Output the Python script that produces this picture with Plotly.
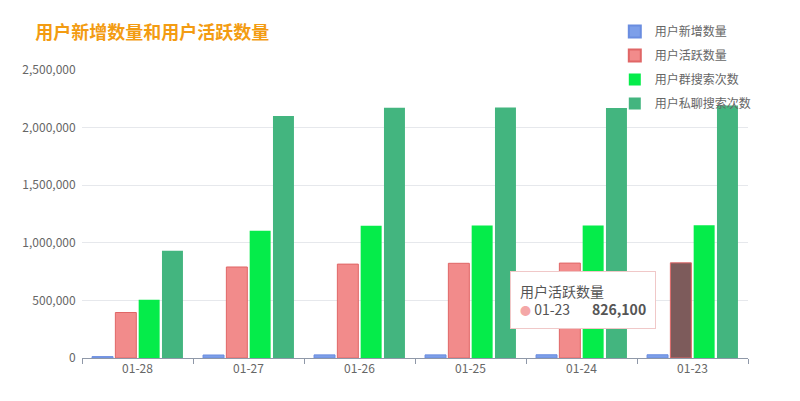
import plotly.graph_objects as go

# dates and series
dates = ['01-28', '01-27', '01-26', '01-25', '01-24', '01-23']
new_users = [12000, 26000, 27000, 27000, 28000, 28000]
active_users = [395000, 790000, 815000, 822000, 824000, 826100]
group_search = [505000, 1105000, 1148000, 1150000, 1150000, 1152000]
private_search = [932000, 2100000, 2172000, 2175000, 2170000, 2192000]

fig = go.Figure()
fig.add_trace(go.Bar(x=dates, y=new_users, name='用户新增数量', legendgroup='a',
                     marker=dict(color='#7d9fe9', line=dict(color='#6a8de0', width=1))))
# highlighted bar (hovered) on the last date
active_colors = ['#f28b8b'] * (len(dates) - 1) + ['#7d5b5b']
fig.add_trace(go.Bar(x=dates, y=active_users, name='用户活跃数量', legendgroup='b',
                     marker=dict(color=active_colors, line=dict(color='#e06666', width=1))))
fig.add_trace(go.Bar(x=dates, y=group_search, name='用户群搜索次数', legendgroup='c',
                     marker=dict(color='#05ec4a', line=dict(width=0))))
fig.add_trace(go.Bar(x=dates, y=private_search, name='用户私聊搜索次数', legendgroup='d',
                     marker=dict(color='#43b57f', line=dict(width=0))))

fig.update_layout(
    width=800, height=401,
    margin=dict(l=74, r=60, t=62, b=51, autoexpand=False),
    paper_bgcolor='white', plot_bgcolor='white',
    font=dict(family='Noto Sans CJK SC, Microsoft YaHei, sans-serif', color='#666', size=12),
    title=dict(text='<b>用户新增数量和用户活跃数量</b>', x=0.034, xanchor='left', y=0.938, yanchor='middle',
               font=dict(size=18, color='#f39c12')),
    barmode='group', bargap=0.16, bargroupgap=0.1,
    showlegend=True,
    legend=dict(x=0.80, xanchor='left', y=1.184, yanchor='top', bgcolor='rgba(0,0,0,0)',
                font=dict(size=12, color='#666'), traceorder='grouped', tracegroupgap=5,
                itemsizing='constant'),
    xaxis=dict(showgrid=False, showline=True, linecolor='#8f98a8', ticks='outside', tickson='boundaries',
               ticklen=5, tickcolor='#8f98a8', tickfont=dict(size=12, color='#666')),
    yaxis=dict(range=[0, 2500000], dtick=500000, tickformat=',', showgrid=True, gridcolor='#e6e8ec',
               zeroline=False, showline=False, tickfont=dict(size=12, color='#666'), ticksuffix='  '),
)

# hover tooltip as shown in the picture
fig.add_annotation(
    xref='paper', yref='paper', x=0.752, y=0.20, xanchor='center', yanchor='middle',
    text='用户活跃数量<br><span style="color:#f4a7a7;font-size:11px">●</span> 01-23       <b>826,100</b>',
    showarrow=False, align='left', bgcolor='white', bordercolor='#f0c8c8', borderwidth=1,
    borderpad=9, font=dict(size=14, color='#555'))

fig.write_html("out.html")
